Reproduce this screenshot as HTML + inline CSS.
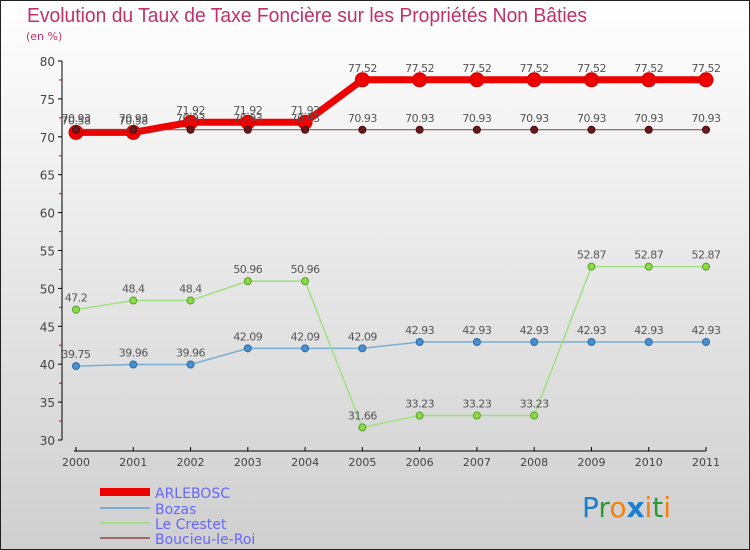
<!DOCTYPE html>
<html><head><meta charset="utf-8"><style>
body{margin:0}
#c{width:750px;height:550px;position:relative;overflow:hidden;font-family:"DejaVu Sans","Liberation Sans",sans-serif}
</style></head><body>
<div id="c">
<svg id="s" width="750" height="550" xmlns="http://www.w3.org/2000/svg">
<defs><linearGradient id="bg" x1="0" y1="0" x2="0" y2="1"><stop offset="0" stop-color="#ffffff"/><stop offset="1" stop-color="#cfcfcf"/></linearGradient></defs>
<rect x="0.5" y="0.5" width="749" height="549" fill="url(#bg)" stroke="#222"/>
<text x="27" y="22" font-size="20" fill="#c0306a" font-family="Liberation Sans" textLength="560" lengthAdjust="spacingAndGlyphs">Evolution du Taux de Taxe Foncière sur les Propriétés Non Bâties</text>
<text x="26" y="40" font-size="11" fill="#c0306a">(en %)</text>
<g id="axes"></g><g id="series"></g>
<g>
<rect x="100" y="488" width="50" height="8" fill="#e00"/>
<text x="155" y="498" font-size="14" fill="#6666ff">ARLEBOSC</text>
<line x1="100" y1="508" x2="150" y2="508" stroke="#7aaed0" stroke-width="2"/>
<text x="155" y="514" font-size="14" fill="#6666ff">Bozas</text>
<line x1="100" y1="523" x2="150" y2="523" stroke="#a0e080" stroke-width="2"/>
<text x="155" y="529" font-size="14" fill="#6666ff">Le Crestet</text>
<line x1="100" y1="538" x2="150" y2="538" stroke="#9a6a6a" stroke-width="2"/>
<text x="155" y="544" font-size="14" fill="#6666ff">Boucieu-le-Roi</text>
</g>
<text x="582" y="517" font-size="28" font-family="DejaVu Sans"><tspan fill="#1a7fd0">P</tspan><tspan fill="#2a9a3a">r</tspan><tspan fill="#f08010">o</tspan><tspan fill="#1a7fd0" font-weight="bold">x</tspan><tspan fill="#f08010">i</tspan><tspan fill="#2a9a3a">t</tspan><tspan fill="#f08010">i</tspan></text>
</svg>
</div>
<script>
const years=[2000,2001,2002,2003,2004,2005,2006,2007,2008,2009,2010,2011];
const yTicks=[30,35,40,45,50,55,60,65,70,75,80];
const arlebosc=[70.58,70.58,71.92,71.92,71.92,77.52,77.52,77.52,77.52,77.52,77.52,77.52];
const bozas=[39.75,39.96,39.96,42.09,42.09,42.09,42.93,42.93,42.93,42.93,42.93,42.93];
const crestet=[47.2,48.4,48.4,50.96,50.96,31.66,33.23,33.23,33.23,52.87,52.87,52.87];
const boucieu=[70.93,70.93,70.93,70.93,70.93,70.93,70.93,70.93,70.93,70.93,70.93,70.93];
const NS="http://www.w3.org/2000/svg";
const X=i=>76+i*(630/11);
const Y=v=>440-(v-30)*(379/50);
function mk(tag,attrs,parent){const e=document.createElementNS(NS,tag);for(const k in attrs)e.setAttribute(k,attrs[k]);parent.appendChild(e);return e;}
const ax=document.getElementById('axes');
let yl=mk('line',{x1:62,y1:Y(80),x2:62,y2:Y(30),stroke:'#000'},ax);


let xl=mk('line',{x1:X(0)-2,y1:451,x2:X(11),y2:451,stroke:'#000'},ax);


yTicks.forEach((t,i)=>{
  mk('line',{x1:58,y1:Y(t),x2:62,y2:Y(t),stroke:'#000'},ax);
  if(i<yTicks.length-1) mk('line',{x1:59,y1:Y(t+2.5),x2:62,y2:Y(t+2.5),stroke:'#d00'},ax);
  const tx=mk('text',{x:55,y:Y(t)+5,'text-anchor':'end','font-size':12,fill:'#444'},ax);
  tx.textContent=t;
  
  
});
years.forEach((yr,i)=>{
  mk('line',{x1:X(i),y1:447,x2:X(i),y2:451,stroke:'#000'},ax);
  const tx=mk('text',{x:X(i),y:466,'text-anchor':'middle','font-size':11,fill:'#444'},ax);
  tx.textContent=yr;
  
  
});
const sg=document.getElementById('series');
function series(name,vals,color,w,r,dot,stroke){
  const g=mk('g',{},sg);
  
  
  const p=mk('polyline',{points:vals.map((v,i)=>X(i)+','+Y(v)).join(' '),fill:'none',stroke:color,'stroke-width':w,'stroke-linejoin':'round'},g);
  
  
  vals.forEach((v,i)=>{
    const c=mk('circle',{cx:X(i),cy:Y(v),r:r,fill:dot,stroke:stroke,'stroke-width':1},g);
    
    
    const t=mk('text',{x:X(i),y:Y(v)-8,'text-anchor':'middle','font-size':11,fill:'#555','letter-spacing':'-0.5'},g);
    t.textContent=String(v);
    
    
  });
}
series('bozas',bozas,'#7aaed0',1.5,3.5,'#4a90d0','#2a6aa0');
series('le-crestet',crestet,'#a0e080',1.5,3.5,'#88dd44','#5a9a2a');
series('arlebosc',arlebosc,'#ee0000',7,7,'#ee0000','#cc0000');
series('boucieu-le-roi',boucieu,'#7a4a4a',1,3.5,'#6a1a1a','#4a0a0a');
</script>
</body></html>
